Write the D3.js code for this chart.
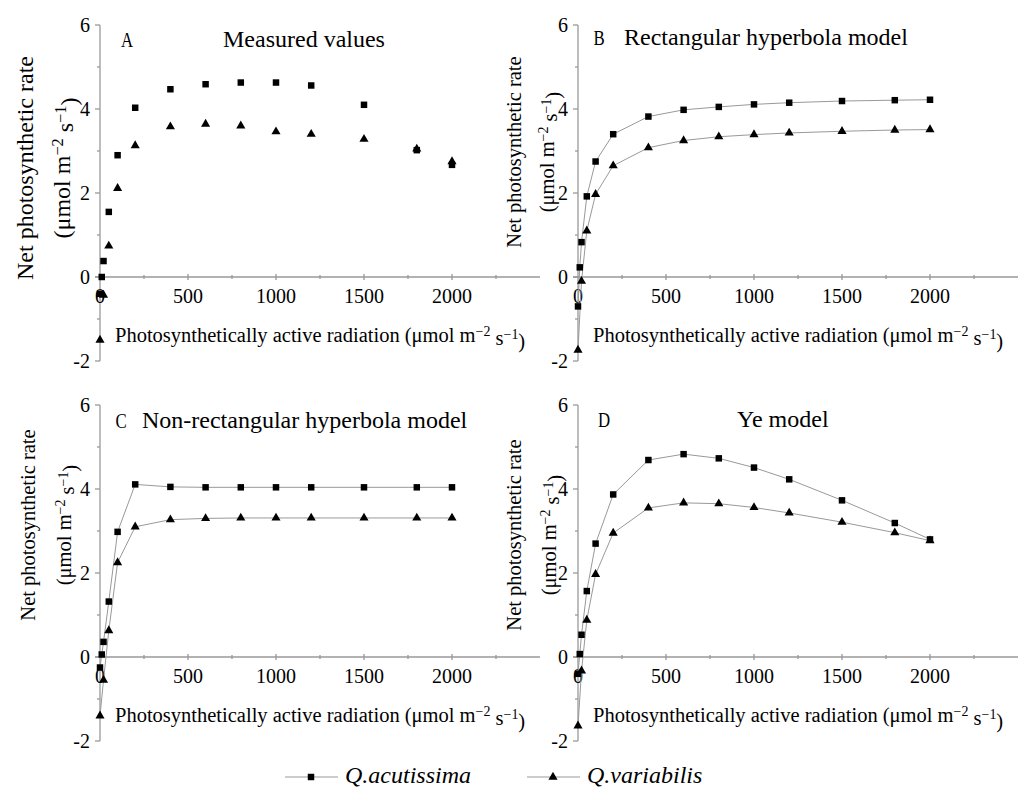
<!DOCTYPE html>
<html>
<head>
<meta charset="UTF-8">
<title>Light response curves</title>
<script src="https://cdn.jsdelivr.net/npm/d3@7"></script>
<style>
    body { margin: 0; background: #fff; }
    .axis-line { stroke: #999; stroke-width: 1.3; fill: none; }
    .curve { stroke: #999; stroke-width: 1; fill: none; }
</style>
</head>
<body>
<div id="chart"></div>
<script>
// PAR levels (umol m-2 s-1)
const parAcut = [0, 10, 20, 50, 100, 200, 400, 600, 800, 1000, 1200, 1500, 1800, 2000];
const parVar = [0, 20, 50, 100, 200, 400, 600, 800, 1000, 1200, 1500, 1800, 2000];

// net photosynthetic rate, Q. acutissima (squares) / Q. variabilis (triangles)
const measuredAcut = [-0.4, 0.0, 0.38, 1.55, 2.9, 4.03, 4.47, 4.59, 4.63, 4.63, 4.56, 4.1, 3.02, 2.67];
const measuredVar = [-1.5, -0.43, 0.74, 2.11, 3.13, 3.58, 3.64, 3.6, 3.46, 3.4, 3.28, 3.05, 2.75];
const rectAcut = [-0.7, 0.23, 0.83, 1.92, 2.75, 3.4, 3.82, 3.98, 4.05, 4.11, 4.15, 4.19, 4.21, 4.22];
const rectVar = [-1.74, -0.1, 1.1, 1.97, 2.65, 3.08, 3.25, 3.34, 3.39, 3.43, 3.47, 3.5, 3.51];
const nonRectAcut = [-0.25, 0.06, 0.36, 1.32, 2.98, 4.11, 4.05, 4.04, 4.04, 4.04, 4.04, 4.04, 4.04, 4.04];
const nonRectVar = [-1.4, -0.55, 0.63, 2.25, 3.1, 3.27, 3.3, 3.31, 3.31, 3.31, 3.31, 3.31, 3.31];
const yeAcut = [-0.4, 0.07, 0.53, 1.57, 2.7, 3.87, 4.69, 4.83, 4.73, 4.51, 4.23, 3.73, 3.19, 2.8];
const yeVar = [-1.64, -0.33, 0.88, 1.97, 2.95, 3.55, 3.67, 3.65, 3.56, 3.43, 3.21, 2.96, 2.77];

const panelLetters = ["A", "B", "C", "D"];
const panelTitles = ["Measured values", "Rectangular hyperbola model", "Non-rectangular hyperbola model", "Ye model"];
const xTickLabels = [0, 500, 1000, 1500, 2000];
const yTickLabels = [-2, 0, 2, 4, 6];
const speciesNames = ["Q.acutissima", "Q.variabilis"];

const panels = [
    { acut: measuredAcut, vari: measuredVar, lines: false,
      x0: 100, top: 25, letterX: 127, titleX: 223, titleY: 47,
      yl1: 33, yl2: 70, ylY: 168, ylSize: 24, xlX: 115 },
    { acut: rectAcut, vari: rectVar, lines: true,
      x0: 578, top: 25, letterX: 599, titleX: 624, titleY: 45,
      yl1: 521, yl2: 554, ylY: 152, ylSize: 20.5, xlX: 593 },
    { acut: nonRectAcut, vari: nonRectVar, lines: true,
      x0: 100, top: 405, letterX: 121, titleX: 142, titleY: 428,
      yl1: 35, yl2: 71, ylY: 525, ylSize: 20.5, xlX: 115 },
    { acut: yeAcut, vari: yeVar, lines: true,
      x0: 578, top: 405, letterX: 604, titleX: 737, titleY: 427,
      yl1: 521, yl2: 556, ylY: 535, ylSize: 20.5, xlX: 593 }
];

const width = 1022, height = 787;
const plotW = 440, plotH = 336;
const serif = "'Liberation Serif', monospace";

const svg = d3.select("#chart").append("svg")
    .attr("width", width)
    .attr("height", height);

const square = d3.symbol().type(d3.symbolSquare).size(42);
const triangle = d3.symbol().type(d3.symbolTriangle).size(36);

// writes "(μmol m⁻² s⁻¹)" style units with real superscripts
function unitText(sel, prefix) {
    sel.append("tspan").text(prefix + "(μmol m");
    sel.append("tspan").attr("dy", "-0.45em").style("font-size", "0.68em").text("−2");
    sel.append("tspan").attr("dy", "0.45em").text(" s");
    sel.append("tspan").attr("dy", "-0.45em").style("font-size", "0.68em").text("−1");
    sel.append("tspan").attr("dy", "0.45em").text(")");
}

panels.forEach((p, i) => {
    const x = d3.scaleLinear().domain([0, 2500]).range([p.x0, p.x0 + plotW]);
    const y = d3.scaleLinear().domain([-2, 6]).range([p.top + plotH, p.top]);
    const g = svg.append("g");
    const y0 = y(0);

    // y axis
    g.append("line").attr("class", "axis-line")
        .attr("x1", p.x0).attr("x2", p.x0)
        .attr("y1", y(6)).attr("y2", y(-2));
    g.selectAll(".ymaj").data(yTickLabels).enter().append("line")
        .attr("class", "axis-line")
        .attr("x1", p.x0 - 5).attr("x2", p.x0)
        .attr("y1", d => y(d)).attr("y2", d => y(d));
    g.selectAll(".ymin").data([-1, 1, 3, 5]).enter().append("line")
        .attr("class", "axis-line")
        .attr("x1", p.x0 - 3).attr("x2", p.x0)
        .attr("y1", d => y(d)).attr("y2", d => y(d));
    g.selectAll(".ylab").data(yTickLabels).enter().append("text")
        .attr("x", p.x0 - 10).attr("y", d => y(d))
        .attr("dy", "0.35em")
        .attr("text-anchor", "end")
        .style("font-size", "20px")
        .text(d => d < 0 ? "-" + Math.abs(d) : d);

    // x axis at y = 0
    g.append("line").attr("class", "axis-line")
        .attr("x1", p.x0 - 5).attr("x2", x(2500))
        .attr("y1", y0).attr("y2", y0);
    g.selectAll(".xt").data(d3.range(250, 2500, 250)).enter().append("line")
        .attr("class", "axis-line")
        .attr("x1", d => x(d)).attr("x2", d => x(d))
        .attr("y1", d => y0 - (d % 500 === 0 ? 3 : 2))
        .attr("y2", d => y0 + (d % 500 === 0 ? 3 : 2));
    g.selectAll(".xlab").data(xTickLabels).enter().append("text")
        .attr("x", d => x(d)).attr("y", y0 + 26)
        .attr("text-anchor", "middle")
        .style("font-size", "20px")
        .text(d => d);

    // axis titles
    const xl = g.append("text").attr("x", p.xlX).attr("y", p.top + 317).style("font-size", "20.5px");
    unitText(xl, "Photosynthetically active radiation ");

    g.append("text")
        .attr("transform", `translate(${p.yl1},${p.ylY}) rotate(-90)`)
        .attr("text-anchor", "middle")
        .style("font-size", p.ylSize + "px")
        .text("Net photosynthetic rate");
    const yl = g.append("text")
        .attr("transform", `translate(${p.yl2},${p.ylY}) rotate(-90)`)
        .attr("text-anchor", "middle")
        .style("font-size", p.ylSize + "px");
    unitText(yl, "");

    // panel letter + title
    g.append("text").attr("x", 0).attr("y", 0)
        .attr("text-anchor", "middle")
        .style("font-size", "21px")
        .attr("transform", `translate(${p.letterX},${p.titleY}) scale(0.8,1)`)
        .text(panelLetters[i]);
    g.append("text").attr("x", p.titleX).attr("y", p.titleY)
        .style("font-size", "24px")
        .text(panelTitles[i]);

    const acutPts = parAcut.map((v, k) => [v, p.acut[k]]);
    const varPts = parVar.map((v, k) => [v, p.vari[k]]);

    if (p.lines) {
        const line = d3.line().x(d => x(d[0])).y(d => y(d[1]));
        g.append("path").attr("class", "curve").attr("d", line(acutPts));
        g.append("path").attr("class", "curve").attr("d", line(varPts));
    }

    g.selectAll(".sq").data(acutPts).enter().append("path")
        .attr("d", square)
        .attr("transform", d => `translate(${x(d[0])},${y(d[1])})`)
        .attr("fill", "#000");
    g.selectAll(".tri").data(varPts).enter().append("path")
        .attr("d", triangle)
        .attr("transform", d => `translate(${x(d[0])},${y(d[1])})`)
        .attr("fill", "#000");
});

// legend
const legend = svg.append("g");
const legendX = [285, 527];
speciesNames.forEach((name, i) => {
    const lx = legendX[i];
    legend.append("line").attr("class", "curve")
        .attr("x1", lx).attr("x2", lx + 53)
        .attr("y1", 777).attr("y2", 777);
    legend.append("path")
        .attr("d", i === 0 ? square : triangle)
        .attr("transform", `translate(${lx + 26},777)`)
        .attr("fill", "#000");
    legend.append("text")
        .attr("x", lx + 60).attr("y", 783)
        .style("font-size", "24px").style("font-style", "italic")
        .text(name);
});

// set the face on every text node directly
svg.selectAll("text").style("font-family", serif).style("fill", "#000");
</script>
</body>
</html>
